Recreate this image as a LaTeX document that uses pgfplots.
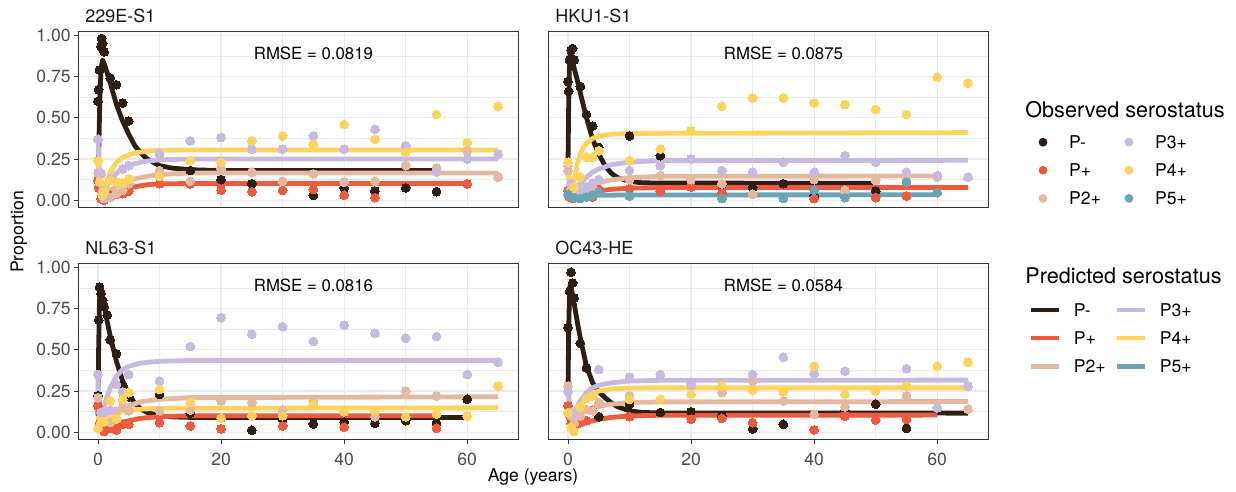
\documentclass[border=0pt]{standalone}
\usepackage{fontspec}
\setmainfont{TeX Gyre Heros}
\usepackage{pgfplots}
\pgfplotsset{compat=1.18}
\definecolor{cPm}{RGB}{46,30,20}
\definecolor{cP1}{RGB}{236,91,61}
\definecolor{cP2}{RGB}{227,185,162}
\definecolor{cP3}{RGB}{200,185,224}
\definecolor{cP4}{RGB}{255,211,92}
\definecolor{cP5}{RGB}{107,165,181}
\definecolor{g10}{gray}{0.1}
\definecolor{g20}{gray}{0.2}
\definecolor{g30}{gray}{0.3}
\definecolor{g92}{gray}{0.92}
\newcommand{\fticks}{\fontsize{8.8}{10}\selectfont}
\pgfplotsset{
  panel/.style={scale only axis, width=220pt, height=88pt,
    anchor=south west,
    xmin=-3.25, xmax=68.25, ymin=-0.047, ymax=1.02,
    xtick={0,20,40,60}, xticklabels={0,20,40,60},
    minor xtick={10,30,50},
    ytick={0,0.25,0.5,0.75,1}, yticklabels={0.00,0.25,0.50,0.75,1.00},
    minor ytick={0.125,0.375,0.625,0.875},
    grid=both,
    major grid style={draw=g92, line width=0.6pt},
    minor grid style={draw=g92, line width=0.3pt},
    axis line style={draw=g20, line width=0.5pt},
    tick align=outside, major tick length=2.2pt, minor tick length=0pt,
    tick style={draw=g20, line width=0.5pt},
    xtick pos=bottom, ytick pos=left,
    ticklabel style={font=\fticks, text=g30},
    yticklabel style={inner sep=0pt, xshift=-1.3pt},
    xticklabel style={inner sep=0pt, yshift=-4.2pt},
    every axis title/.style={at={(0,1)}, anchor=base west, inner sep=0pt, xshift=3.5pt, yshift=4.8pt, font=\fontsize{9}{10}\selectfont, text=g10},
  },
  notopx/.style={xticklabels={}, xtick style={draw=none}},
  norighty/.style={yticklabels={}, ytick style={draw=none}},
  obs/.style={only marks, mark=*, mark size=2.2pt, color=#1, mark options={draw=#1, fill=#1, line width=0pt}},
  pred/.style={no marks, line width=2.4pt, color=#1, line join=round},
  legax/.style={hide axis, scale only axis, width=1pt, height=1pt, xmin=0, xmax=1, ymin=0, ymax=1, anchor=north west,
    legend cell align=left,
    legend style={at={(0,1)}, anchor=north west, draw=none, fill=none, inner sep=0pt, outer sep=0pt,
      row sep=0.65pt, font=\fontsize{8.8}{10}\selectfont,
      nodes={inner xsep=0pt, inner ysep=0pt, minimum height=13.4pt, text height=6.4pt, text depth=0pt},
      /tikz/every odd column/.append style={column sep=6pt}}},
  ptkey/.style={legend image code/.code={\path[draw=none, fill=none] (0pt,-1pt) rectangle (14pt,1pt); \fill[#1, draw=none] (7pt,0pt) circle[radius=2.2pt];}},
  lnkey/.style={legend image code/.code={\draw[#1, line width=2.4pt] (0pt,0pt) -- (14pt,0pt);}},
}
\newcommand{\rmse}[1]{\node[font=\fontsize{8.4}{10}\selectfont, text=black] at (rel axis cs:0.535,0.88) {#1};}
\begin{document}
\begin{tikzpicture}
\path[use as bounding box] (0pt,0pt) rectangle (618pt,246pt);

% ---------------- 229E-S1 ----------------
\begin{axis}[panel, notopx, at={(39pt,142pt)}, title={229E-S1}]
\addplot[pred=cPm] coordinates {(0,0.08) (0.15,0.35) (0.3,0.62) (0.5,0.80) (0.75,0.85) (1,0.83) (1.5,0.77) (2,0.71) (3,0.58) (4,0.48) (5,0.40) (6,0.33) (7,0.285) (8,0.25) (10,0.21) (12,0.195) (15,0.185) (20,0.18) (55,0.18)};
\addplot[pred=cP1] coordinates {(0,0.12) (0.3,0.05) (0.6,0.01) (1,0.012) (1.5,0.02) (2,0.03) (3,0.045) (4,0.06) (5,0.072) (6,0.082) (8,0.094) (10,0.10) (15,0.101) (60,0.101)};
\addplot[pred=cP2] coordinates {(0,0.165) (0.3,0.08) (0.6,0.02) (1,0.02) (1.5,0.04) (2,0.06) (3,0.085) (4,0.105) (5,0.12) (6,0.13) (8,0.145) (10,0.155) (12,0.16) (15,0.165) (65,0.165)};
\addplot[pred=cP3] coordinates {(0,0.37) (0.2,0.2) (0.5,0.05) (0.8,0.03) (1,0.05) (1.5,0.09) (2,0.12) (3,0.165) (4,0.195) (5,0.21) (6,0.222) (8,0.237) (10,0.245) (15,0.25) (65,0.25)};
\addplot[pred=cP4] coordinates {(0,0.24) (0.2,0.12) (0.5,0.03) (0.8,0.03) (1,0.06) (1.5,0.12) (2,0.17) (3,0.23) (4,0.26) (5,0.275) (6,0.287) (8,0.298) (10,0.303) (15,0.305) (65,0.305)};
\addplot[obs=cPm] coordinates {(0,0.60) (0.1,0.67) (0.25,0.79) (0.5,0.93) (0.6,0.98) (0.75,0.95) (1,0.90) (2,0.74) (3,0.70) (4,0.59) (5,0.48) (15,0.18) (20,0.125) (25,0.10) (35,0.03) (40,0.075) (45,0.056) (50,0.075) (55,0.052)};
\addplot[obs=cP1] coordinates {(0,0.12) (0.1,0.075) (0.5,0.01) (1,0.0) (2,0.03) (3,0.035) (4,0.04) (5,0.055) (10,0.10) (15,0.10) (20,0.062) (25,0.052) (30,0.06) (35,0.066) (40,0.03) (45,0.016) (60,0.10)};
\addplot[obs=cP2] coordinates {(0,0.165) (0.5,0.16) (1,0.02) (2,0.016) (3,0.04) (4,0.06) (5,0.10) (10,0.18) (15,0.115) (20,0.19) (25,0.17) (30,0.115) (35,0.16) (40,0.11) (45,0.115) (50,0.21) (55,0.195) (60,0.30) (65,0.14)};
\addplot[obs=cP3] coordinates {(0,0.37) (0.25,0.17) (0.75,0.06) (1,0.01) (2,0.13) (3,0.11) (4,0.19) (5,0.21) (10,0.28) (15,0.36) (20,0.38) (25,0.31) (30,0.31) (35,0.39) (40,0.31) (45,0.43) (50,0.33) (55,0.17) (60,0.25) (65,0.28)};
\addplot[obs=cP4] coordinates {(0,0.24) (0.25,0.11) (0.75,0.03) (1,0.05) (2,0.12) (3,0.11) (4,0.105) (5,0.13) (10,0.145) (15,0.24) (20,0.23) (25,0.36) (30,0.39) (35,0.34) (40,0.46) (45,0.37) (50,0.29) (55,0.52) (60,0.35) (65,0.57)};
\rmse{RMSE = 0.0819}
\end{axis}

% ---------------- HKU1-S1 ----------------
\begin{axis}[panel, notopx, norighty, at={(274pt,142pt)}, title={HKU1-S1}]
\addplot[pred=cPm] coordinates {(0,0.22) (0.1,0.55) (0.25,0.85) (0.4,0.90) (0.6,0.88) (1,0.80) (1.5,0.73) (2,0.65) (3,0.50) (4,0.37) (5,0.28) (6,0.21) (7,0.165) (8,0.138) (10,0.114) (12,0.106) (15,0.104) (50,0.103)};
\addplot[pred=cP1] coordinates {(0,0.07) (0.3,0.02) (0.7,0.01) (1,0.015) (2,0.03) (3,0.04) (4,0.05) (5,0.057) (7,0.066) (10,0.073) (15,0.077) (65,0.077)};
\addplot[pred=cP2] coordinates {(0,0.18) (0.3,0.08) (0.7,0.03) (1,0.03) (2,0.06) (3,0.08) (4,0.095) (5,0.107) (7,0.123) (10,0.137) (15,0.145) (60,0.147)};
\addplot[pred=cP3] coordinates {(0,0.21) (0.3,0.1) (0.7,0.04) (1,0.05) (2,0.10) (3,0.14) (4,0.17) (5,0.19) (7,0.215) (10,0.232) (15,0.24) (65,0.242)};
\addplot[pred=cP4] coordinates {(0,0.23) (0.3,0.08) (0.6,0.03) (1,0.12) (1.5,0.22) (2,0.28) (2.5,0.32) (3,0.345) (4,0.375) (5,0.39) (7,0.40) (10,0.405) (65,0.41)};
\addplot[pred=cP5] coordinates {(0,0.036) (0.5,0.015) (1,0.012) (2,0.02) (3,0.025) (5,0.03) (10,0.032) (60,0.033)};
\addplot[obs=cPm] coordinates {(0,0.72) (0.1,0.66) (0.25,0.85) (0.5,0.91) (0.75,0.92) (1,0.85) (2,0.69) (3,0.52) (4,0.45) (5,0.32) (10,0.39) (15,0.27) (20,0.106) (25,0.096) (30,0.076) (35,0.10) (40,0.026) (50,0.056)};
\addplot[obs=cP1] coordinates {(0,0.06) (0.25,0.02) (0.75,0.01) (1,0.03) (2,0.05) (3,0.05) (4,0.02) (5,0.066) (10,0.07) (15,0.056) (20,0.08) (25,0.046) (40,0.01) (45,0.06) (50,0.016) (55,0.026)};
\addplot[obs=cP2] coordinates {(0,0.18) (0.5,0.07) (1,0.05) (2,0.04) (3,0.06) (4,0.08) (5,0.12) (10,0.125) (15,0.15) (20,0.125) (25,0.10) (30,0.036) (40,0.125) (45,0.06) (50,0.12) (55,0.12) (60,0.14)};
\addplot[obs=cP3] coordinates {(0,0.21) (0.5,0.10) (1,0.04) (2,0.05) (3,0.08) (4,0.105) (5,0.125) (10,0.18) (15,0.21) (20,0.25) (25,0.18) (30,0.17) (35,0.23) (40,0.17) (45,0.27) (50,0.23) (55,0.17) (60,0.15) (65,0.14)};
\addplot[obs=cP4] coordinates {(0,0.23) (0.5,0.05) (1,0.08) (2,0.14) (3,0.26) (4,0.26) (5,0.30) (10,0.24) (15,0.31) (20,0.42) (25,0.57) (30,0.62) (35,0.62) (40,0.59) (45,0.58) (50,0.55) (55,0.52) (60,0.745) (65,0.71)};
\addplot[obs=cP5] coordinates {(0,0.036) (0.5,0.02) (1,0.016) (2,0.01) (3,0.02) (4,0.03) (5,0.05) (10,0.026) (25,0.01) (35,0.01) (40,0.06) (45,0.016) (55,0.11) (60,0.046)};
\rmse{RMSE = 0.0875}
\end{axis}

% ---------------- NL63-S1 ----------------
\begin{axis}[panel, at={(39pt,26pt)}, title={NL63-S1}]
\addplot[pred=cPm] coordinates {(0,0.1) (0.1,0.5) (0.25,0.80) (0.4,0.86) (0.6,0.84) (1,0.77) (1.5,0.67) (2,0.58) (3,0.43) (4,0.31) (5,0.23) (6,0.175) (7,0.14) (8,0.12) (10,0.10) (12,0.093) (15,0.09) (60,0.09)};
\addplot[pred=cP1] coordinates {(0,0.16) (0.3,0.05) (0.6,0.02) (1,0.02) (2,0.035) (3,0.05) (4,0.06) (5,0.07) (7,0.085) (10,0.095) (15,0.10) (55,0.10)};
\addplot[pred=cP2] coordinates {(0,0.20) (0.3,0.1) (0.7,0.05) (1,0.055) (2,0.09) (3,0.12) (4,0.145) (5,0.16) (7,0.185) (10,0.20) (15,0.21) (65,0.215)};
\addplot[pred=cP3] coordinates {(0,0.33) (0.25,0.12) (0.5,0.06) (1,0.15) (1.5,0.22) (2,0.27) (3,0.34) (4,0.38) (5,0.40) (7,0.42) (10,0.43) (15,0.435) (65,0.435)};
\addplot[pred=cP4] coordinates {(0,0.1) (0.3,0.04) (0.7,0.04) (1,0.06) (2,0.09) (3,0.11) (4,0.125) (5,0.133) (7,0.14) (10,0.145) (65,0.148)};
\addplot[obs=cPm] coordinates {(0,0.22) (0.1,0.68) (0.25,0.88) (0.5,0.84) (0.75,0.80) (1,0.76) (1.5,0.71) (2,0.56) (3,0.475) (4,0.285) (5,0.215) (10,0.23) (15,0.115) (25,0.012) (30,0.075) (35,0.05) (40,0.06) (45,0.055) (50,0.07) (55,0.055) (60,0.20)};
\addplot[obs=cP1] coordinates {(0,0.16) (0.25,0.05) (0.5,0.02) (1,0.004) (2,0.024) (3,0.014) (4,0.048) (5,0.048) (10,0.058) (15,0.038) (20,0.02) (30,0.038) (40,0.03) (55,0.024)};
\addplot[obs=cP2] coordinates {(0,0.21) (0.5,0.06) (1,0.064) (2,0.06) (3,0.13) (4,0.155) (5,0.13) (10,0.13) (15,0.134) (20,0.19) (25,0.18) (30,0.134) (35,0.184) (45,0.094) (50,0.25) (55,0.22)};
\addplot[obs=cP3] coordinates {(0,0.35) (0.5,0.12) (1,0.12) (2,0.134) (3,0.29) (4,0.245) (5,0.35) (10,0.31) (15,0.52) (20,0.695) (25,0.595) (30,0.64) (35,0.55) (40,0.65) (45,0.60) (50,0.57) (55,0.58) (60,0.35) (65,0.425)};
\addplot[obs=cP4] coordinates {(0,0.024) (0.5,0.06) (1,0.064) (2,0.19) (3,0.08) (4,0.20) (5,0.24) (10,0.26) (15,0.18) (20,0.085) (25,0.10) (30,0.10) (35,0.17) (40,0.124) (45,0.128) (50,0.094) (55,0.11) (60,0.098) (65,0.28)};
\rmse{RMSE = 0.0816}
\end{axis}

% ---------------- OC43-HE ----------------
\begin{axis}[panel, norighty, at={(274pt,26pt)}, title={OC43-HE}]
\addplot[pred=cPm] coordinates {(0,0.24) (0.1,0.6) (0.25,0.86) (0.4,0.90) (0.6,0.86) (1,0.78) (1.5,0.67) (2,0.57) (3,0.40) (4,0.30) (5,0.245) (6,0.21) (7,0.18) (8,0.155) (10,0.13) (12,0.12) (15,0.117) (65,0.116)};
\addplot[pred=cP1] coordinates {(0,0.16) (0.3,0.06) (0.7,0.02) (1,0.025) (2,0.045) (3,0.06) (4,0.07) (5,0.078) (7,0.09) (10,0.099) (15,0.103) (60,0.104)};
\addplot[pred=cP2] coordinates {(0,0.28) (0.3,0.14) (0.7,0.07) (1,0.08) (2,0.11) (3,0.13) (4,0.145) (5,0.157) (7,0.17) (10,0.18) (15,0.184) (65,0.186)};
\addplot[pred=cP3] coordinates {(0,0.25) (0.3,0.15) (0.7,0.11) (1,0.12) (2,0.19) (3,0.24) (4,0.27) (5,0.285) (7,0.30) (10,0.31) (15,0.315) (65,0.316)};
\addplot[pred=cP4] coordinates {(0,0.12) (0.3,0.05) (0.7,0.02) (1,0.04) (2,0.15) (3,0.21) (4,0.235) (5,0.25) (7,0.262) (10,0.268) (15,0.27) (65,0.27)};
\addplot[obs=cPm] coordinates {(0,0.635) (0.25,0.855) (0.5,0.97) (0.75,0.905) (1,0.815) (2,0.54) (3,0.39) (5,0.094) (10,0.17) (15,0.12) (20,0.124) (25,0.10) (30,0.02) (35,0.048) (45,0.134) (50,0.17) (55,0.024)};
\addplot[obs=cP1] coordinates {(0,0.16) (0.25,0.10) (0.5,0.05) (1,0.05) (2,0.058) (3,0.07) (4,0.134) (10,0.094) (20,0.08) (25,0.084) (30,0.058) (40,0.014) (45,0.098) (50,0.074) (55,0.078)};
\addplot[obs=cP2] coordinates {(0,0.28) (0.5,0.1) (1,0.054) (2,0.10) (3,0.138) (4,0.13) (5,0.18) (10,0.22) (15,0.20) (20,0.28) (25,0.24) (30,0.31) (35,0.19) (40,0.108) (45,0.154) (55,0.22) (65,0.14)};
\addplot[obs=cP3] coordinates {(0,0.245) (0.5,0.12) (1,0.114) (5,0.38) (10,0.335) (15,0.35) (20,0.295) (30,0.35) (35,0.455) (40,0.355) (45,0.37) (55,0.385) (60,0.148) (65,0.28)};
\addplot[obs=cP4] coordinates {(0,0.118) (0.5,0.03) (1,0.004) (2,0.154) (3,0.204) (4,0.22) (10,0.20) (15,0.20) (20,0.23) (25,0.28) (30,0.255) (35,0.245) (40,0.40) (45,0.23) (50,0.25) (55,0.28) (60,0.40) (65,0.425)};
\rmse{RMSE = 0.0584}
\end{axis}

% ---------------- axis titles ----------------
\node[rotate=90, font=\fontsize{8.8}{10}\selectfont, text=black] at (9.5pt,130pt) {Proportion};
\node[anchor=base, font=\fontsize{8.8}{10}\selectfont, text=black] at (266.5pt,5pt) {Age (years)};

% ---------------- legends ----------------
\node[anchor=base west, inner sep=0pt, font=\fontsize{10.8}{12}\selectfont] at (512.5pt,187.4pt) {Observed serostatus};
\node[anchor=base west, inner sep=0pt, font=\fontsize{10.8}{12}\selectfont] at (512.5pt,104pt) {Predicted serostatus};

\begin{axis}[legax, at={(514.5pt,181.6pt)}]
\addlegendimage{ptkey=cPm}\addlegendentry{P-}
\addlegendimage{ptkey=cP1}\addlegendentry{P+}
\addlegendimage{ptkey=cP2}\addlegendentry{P2+}
\end{axis}
\begin{axis}[legax, at={(557.5pt,181.6pt)}]
\addlegendimage{ptkey=cP3}\addlegendentry{P3+}
\addlegendimage{ptkey=cP4}\addlegendentry{P4+}
\addlegendimage{ptkey=cP5}\addlegendentry{P5+}
\end{axis}
\begin{axis}[legax, at={(514.5pt,97.7pt)}]
\addlegendimage{lnkey=cPm}\addlegendentry{P-}
\addlegendimage{lnkey=cP1}\addlegendentry{P+}
\addlegendimage{lnkey=cP2}\addlegendentry{P2+}
\end{axis}
\begin{axis}[legax, at={(557.5pt,97.7pt)}]
\addlegendimage{lnkey=cP3}\addlegendentry{P3+}
\addlegendimage{lnkey=cP4}\addlegendentry{P4+}
\addlegendimage{lnkey=cP5}\addlegendentry{P5+}
\end{axis}
\end{tikzpicture}
\end{document}
